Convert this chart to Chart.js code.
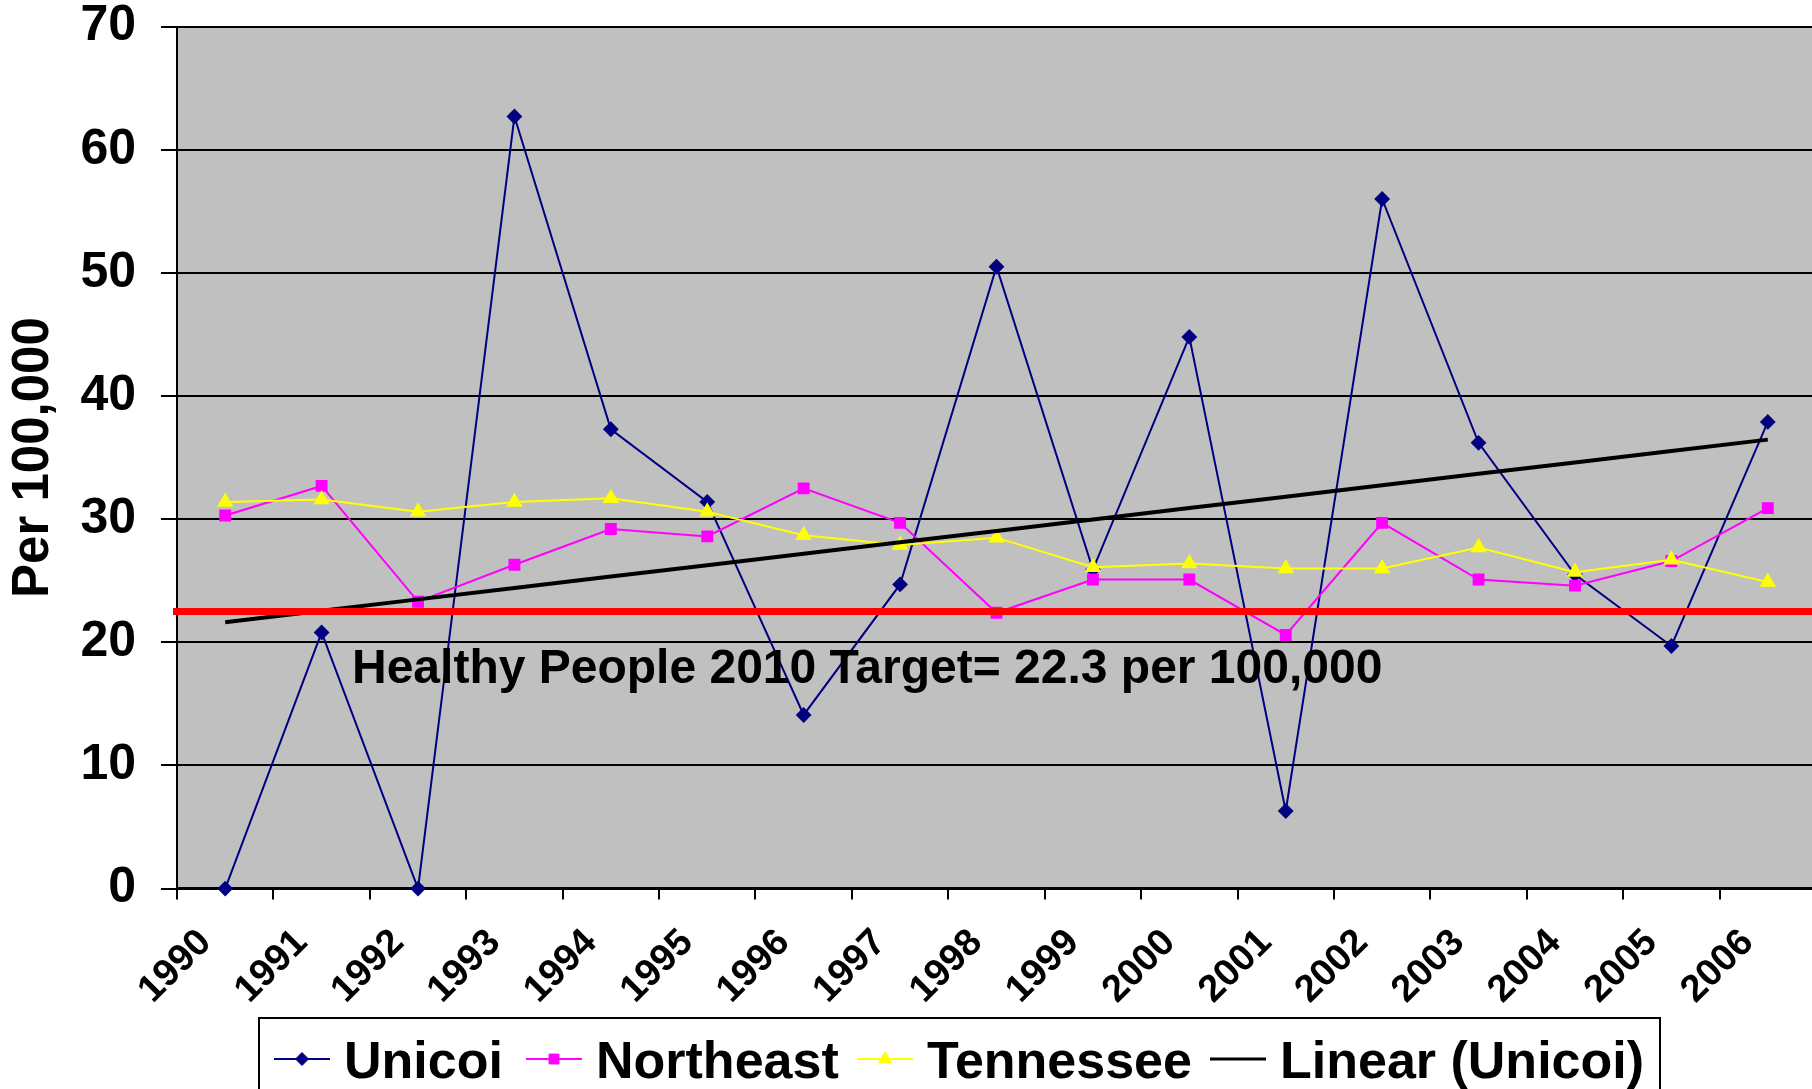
<!DOCTYPE html>
<html>
<head>
<meta charset="utf-8">
<title>Per 100,000 - Unicoi, Northeast, Tennessee</title>
<script src="https://cdn.jsdelivr.net/npm/chart.js@4.4.1/dist/chart.umd.min.js"></script>
<style>
  html, body { margin: 0; padding: 0; background: #fff; }
  canvas { display: block; }
</style>
</head>
<body>
<canvas id="chart" width="1812" height="1089"></canvas>
<script>
const years = ['1990','1991','1992','1993','1994','1995','1996','1997','1998',
               '1999','2000','2001','2002','2003','2004','2005','2006'];
const unicoi    = [0, 20.8, 0, 62.7, 37.3, 31.4, 14.1, 24.7, 50.5, 25.9, 44.8, 6.3, 56.0, 36.2, 25.5, 19.7, 37.9];
const northeast = [30.3, 32.7, 23.3, 26.3, 29.2, 28.6, 32.5, 29.7, 22.4, 25.1, 25.1, 20.6, 29.7, 25.1, 24.6, 26.6, 30.9];
const tennessee = [31.4, 31.6, 30.6, 31.4, 31.7, 30.6, 28.7, 27.9, 28.5, 26.1, 26.4, 26.0, 26.0, 27.7, 25.7, 26.7, 24.9];
const yTicks = [0, 10, 20, 30, 40, 50, 60, 70];
const targetLine = 22.5;
const targetText = 'Healthy People 2010 Target= 22.3 per 100,000';

const FONT = '"Liberation Sans", Arial, sans-serif';

// least squares trend, like Excel's linear trendline
function linearFit(values) {
  const n = values.length;
  const xm = (n - 1) / 2;
  const ym = values.reduce((s, v) => s + v, 0) / n;
  let sxy = 0, sxx = 0;
  values.forEach((v, i) => { sxy += (i - xm) * (v - ym); sxx += (i - xm) * (i - xm); });
  const slope = sxy / sxx;
  return values.map((_, i) => ym + slope * (i - xm));
}

// the plot in the original runs a few px past the right edge of the picture
const stretchRight = {
  id: 'stretchRight',
  afterLayout(chart) {
    const extra = chart.width + 4 - chart.chartArea.right;
    if (extra <= 0) return;
    const xs = chart.scales.x;
    chart.chartArea.right += extra;
    chart.chartArea.width += extra;
    xs.right += extra;
    xs.width += extra;
    xs.configure();
  }
};

const plotBackground = {
  id: 'plotBackground',
  beforeDraw(chart) {
    const { ctx, chartArea: a } = chart;
    ctx.save();
    ctx.fillStyle = '#c0c0c0';
    ctx.fillRect(a.left, a.top, chart.width - a.left, a.bottom - a.top);
    ctx.restore();
  }
};

const targetMarker = {
  id: 'targetMarker',
  afterDatasetsDraw(chart) {
    const { ctx, chartArea: a, scales } = chart;
    const y = scales.y.getPixelForValue(targetLine);
    ctx.save();
    ctx.strokeStyle = '#ff0000';
    ctx.lineWidth = 7;
    ctx.beginPath();
    ctx.moveTo(a.left - 4, y);
    ctx.lineTo(chart.width, y);
    ctx.stroke();
    ctx.fillStyle = '#000';
    ctx.font = 'bold 48px ' + FONT;
    ctx.textBaseline = 'alphabetic';
    ctx.fillText(targetText, 352, scales.y.getPixelForValue(16.7));
    ctx.restore();
  }
};

// Excel style legend: line with marker, boxed, along the bottom
const legendX = [274, 526, 857, 1210];
const legendBox = {
  id: 'legendBox',
  afterDraw(chart) {
    const ctx = chart.ctx;
    const lineY = 1059;
    ctx.save();
    ctx.strokeStyle = '#000';
    ctx.lineWidth = 2;
    ctx.strokeRect(259, 1018, 1401, 120);
    ctx.font = 'bold 52px ' + FONT;
    ctx.textBaseline = 'alphabetic';
    chart.data.datasets.forEach((ds, i) => {
      const x = legendX[i];
      ctx.strokeStyle = ds.borderColor;
      ctx.lineWidth = Math.min(ds.borderWidth, 3);
      ctx.beginPath();
      ctx.moveTo(x, lineY);
      ctx.lineTo(x + 56, lineY);
      ctx.stroke();
      if (ds.pointRadius > 0) {
        ctx.fillStyle = ds.pointBackgroundColor;
        ctx.strokeStyle = ds.borderColor;
        ctx.lineWidth = 1;
        Chart.helpers.drawPoint(ctx, { pointStyle: ds.pointStyle, radius: ds.pointRadius, borderWidth: 1, rotation: 0 }, x + 28, lineY);
      }
      ctx.fillStyle = '#000';
      ctx.fillText(ds.label, x + 70, 1078);
    });
    ctx.restore();
  }
};

new Chart(document.getElementById('chart'), {
  type: 'line',
  data: {
    labels: years,
    datasets: [
      {
        label: 'Unicoi',
        data: unicoi,
        borderColor: '#000080',
        backgroundColor: '#000080',
        pointBackgroundColor: '#000080',
        borderWidth: 2,
        pointStyle: 'rectRot',
        pointRadius: 6.5,
        order: 4
      },
      {
        label: 'Northeast',
        data: northeast,
        borderColor: '#ff00ff',
        backgroundColor: '#ff00ff',
        pointBackgroundColor: '#ff00ff',
        borderWidth: 2,
        pointStyle: 'rect',
        pointRadius: 7,
        order: 3
      },
      {
        label: 'Tennessee',
        data: tennessee,
        borderColor: '#ffff00',
        backgroundColor: '#ffff00',
        pointBackgroundColor: '#ffff00',
        borderWidth: 2,
        pointStyle: 'triangle',
        pointRadius: 7.5,
        order: 2
      },
      {
        label: 'Linear (Unicoi)',
        data: linearFit(unicoi),
        borderColor: '#000000',
        backgroundColor: '#000000',
        borderWidth: 4,
        pointRadius: 0,
        order: 1
      }
    ]
  },
  options: {
    responsive: false,
    animation: false,
    devicePixelRatio: 1,
    layout: { padding: 0 },
    elements: { line: { tension: 0 }, point: { borderWidth: 1, hoverRadius: 7 } },
    datasets: { line: { clip: false } },
    plugins: {
      legend: { display: false },
      tooltip: { enabled: false }
    },
    scales: {
      x: {
        offset: true,
        grid: { offset: true, drawOnChartArea: false, drawTicks: true, tickLength: 11, color: '#000', lineWidth: 2 },
        border: { color: '#000', width: 3 },
        ticks: {
          color: '#000',
          font: { family: FONT, size: 38, weight: 'bold' },
          minRotation: 45,
          maxRotation: 45,
          labelOffset: -20,
          padding: 21,
          autoSkip: false
        },
        afterFit(scale) {
          scale.height = 200.4;
          scale.paddingLeft = 0;
          scale.paddingRight = 0;
        }
      },
      y: {
        min: 0,
        max: 70,
        afterBuildTicks(scale) { scale.ticks = yTicks.map(v => ({ value: v })); },
        grid: { color: '#000', lineWidth: 2, tickLength: 16 },
        border: { color: '#000', width: 2 },
        ticks: {
          color: '#000',
          padding: 25,
          font: { family: FONT, size: 50, weight: 'bold' }
        },
        title: {
          display: true,
          text: 'Per 100,000',
          color: '#000',
          font: { family: FONT, size: 51, weight: 'bold' },
          padding: { top: 3, bottom: 0 }
        },
        afterFit(scale) {
          scale.width = 177;
          scale.paddingTop = 26.6;
          scale.paddingBottom = 0;
        }
      }
    }
  },
  plugins: [stretchRight, plotBackground, targetMarker, legendBox]
});
</script>
</body>
</html>
